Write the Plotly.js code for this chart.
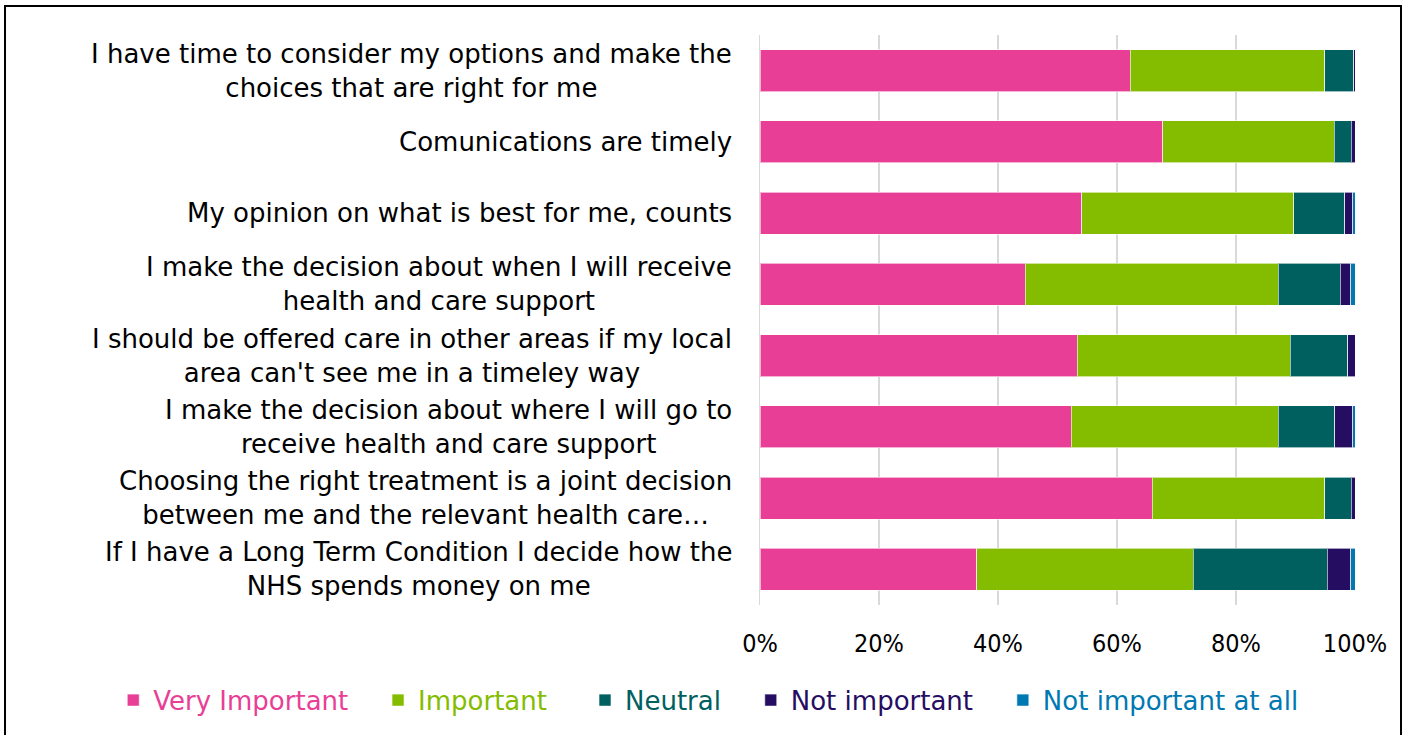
<!DOCTYPE html>
<html>
<head>
<meta charset="utf-8">
<script src="https://cdn.plot.ly/plotly-3.0.1.min.js"></script>
<style>
  html, body { margin: 0; padding: 0; background: #fff; }
  #chart { width: 1408px; height: 735px; position: absolute; left: 0; top: 0; }
  #frame { position: absolute; left: 4px; top: 5px; width: 1398px; height: 740px; border: 2px solid #000; pointer-events: none; box-sizing: border-box; }
</style>
</head>
<body>
<div id="chart"></div>
<div id="frame"></div>
<script>
const categories = [
  "I have time to consider my options and make the<br>choices that are right for me",
  "Comunications are timely",
  "My opinion on what is best for me, counts",
  "I make the decision about when I will receive<br>health and care support",
  "I should be offered care in other areas if my local<br>area can't see me in a timeley way",
  "I make the decision about where I will go to<br>receive health and care support",
  "Choosing the right treatment is a joint decision<br>between me and the relevant health care…",
  "If I have a Long Term Condition I decide how the<br>NHS spends money on me"
];
const seriesNames = ["Very Important", "Important", "Neutral", "Not important", "Not important at all"];
const veryImportant    = [62.2, 67.7, 54.1, 44.6, 53.3, 52.3, 65.9, 36.4];
const important        = [32.7, 28.8, 35.6, 42.5, 35.8, 34.8, 29.0, 36.4];
const neutral          = [4.9, 2.9, 8.6, 10.4, 9.7, 9.5, 4.5, 22.5];
const notImportant     = [0.2, 0.6, 1.3, 1.8, 1.2, 3.0, 0.6, 4.0];
const notImportantAtAll= [0.0, 0.0, 0.4, 0.7, 0.0, 0.4, 0.0, 0.7];
const seriesValues = [veryImportant, important, neutral, notImportant, notImportantAtAll];
const colors = ["#E83E96", "#84BD00", "#006060", "#250E62", "#0079B2"];
const legendPad = [3, 4, 3, 3, 0];
const xTickVals = [0, 20, 40, 60, 80, 100];
const xTickText = ["0%", "20%", "40%", "60%", "80%", "100%"];

const FONT = "'DejaVu Sans', sans-serif";
const FONT_COND = "'DejaVu Sans Condensed', 'DejaVu Sans', sans-serif";

const traces = seriesNames.map((name, i) => ({
  type: "bar",
  orientation: "h",
  name: '<span style="color:' + colors[i] + '">' + name + '</span>' + '\u00A0'.repeat(legendPad[i]),
  y: categories,
  x: seriesValues[i],
  marker: { color: colors[i], line: { color: "rgba(255,255,255,0.6)", width: 1 } },
  hoverinfo: "x+y"
}));

const annotations = categories.map(c => ({
  xref: "paper", yref: "y",
  x: 0, y: c,
  xanchor: "right", yanchor: "middle",
  xshift: -26,
  align: "center",
  text: c,
  showarrow: false,
  font: { family: FONT, size: 26, color: "#000" }
}));

const layout = {
  width: 1408, height: 735,
  paper_bgcolor: "#fff", plot_bgcolor: "#fff",
  barmode: "stack",
  bargap: 0.41,
  margin: { l: 760, r: 53, t: 35, b: 129 },
  font: { family: FONT, size: 24, color: "#000" },
  xaxis: {
    range: [0, 100],
    tickvals: xTickVals, ticktext: xTickText,
    showgrid: true, gridcolor: "#d9d9d9", gridwidth: 1.5,
    zeroline: false, showline: false,
    ticks: "outside", ticklen: 16, tickcolor: "rgba(0,0,0,0)",
    tickfont: { family: FONT_COND, size: 25, color: "#000" },
    fixedrange: true
  },
  yaxis: {
    type: "category",
    autorange: "reversed",
    showticklabels: false,
    showgrid: false, zeroline: false,
    showline: true, linecolor: "#d9d9d9", linewidth: 1.5,
    fixedrange: true
  },
  legend: {
    orientation: "h",
    xref: "paper", yref: "paper",
    x: -1.087, y: -0.165,
    xanchor: "left", yanchor: "middle",
    font: { family: FONT, size: 26 },
    itemwidth: 30,
    traceorder: "normal",
    bgcolor: "rgba(0,0,0,0)"
  },
  annotations: annotations,
  showlegend: true
};

Plotly.newPlot("chart", traces, layout, { displayModeBar: false, staticPlot: true });
</script>
</body>
</html>
